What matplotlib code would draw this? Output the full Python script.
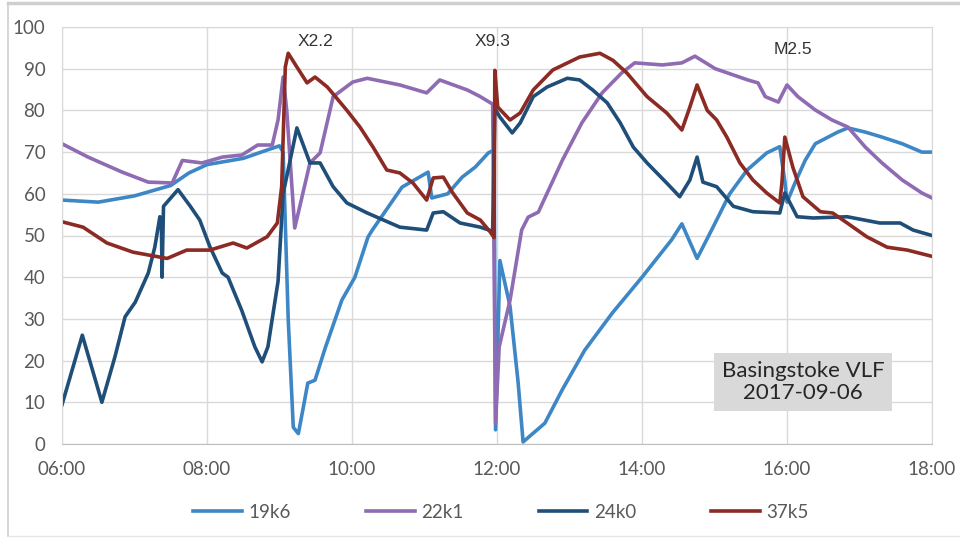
import matplotlib
matplotlib.use("Agg")
import matplotlib.pyplot as plt
from matplotlib.lines import Line2D

plt.rcParams['font.family'] = ['Lato', 'DejaVu Sans']

# Dados (hora decimal, amplitude)
t_19k6 = [6.00, 6.50, 7.00, 7.50, 7.75, 8.00, 8.50, 8.83, 9.00, 9.05, 9.12, 9.19, 9.26, 9.32, 9.39,
          9.49, 9.63, 9.86, 10.04, 10.22, 10.28, 10.69, 11.05, 11.10, 11.32, 11.52, 11.70, 11.88,
          11.96, 11.98, 12.04, 12.18, 12.29, 12.36, 12.66, 12.90, 13.21, 13.59, 14.00, 14.41, 14.55,
          14.76, 14.98, 15.21, 15.45, 15.72, 15.90, 15.97, 16.00, 16.11, 16.25, 16.39, 16.70, 16.84,
          17.08, 17.31, 17.59, 17.86, 18.00]
v_19k6 = [58.5, 58, 59.5, 62, 65, 67, 68.5, 70.5, 71.5, 70, 30, 4, 2.5, 8, 14.6,
          15.3, 23, 34.5, 40, 49.6, 51.3, 61.6, 65.2, 59, 60, 64, 66.4, 69.8,
          70.5, 3.4, 44, 33, 15, 0.5, 5, 13, 22.5, 31.4, 40, 49, 52.8,
          44.5, 52, 60, 65.7, 69.8, 71.3, 63, 58, 62.6, 68, 72, 74.8, 75.8,
          74.8, 73.6, 72, 70, 70]

t_22k1 = [6.00, 6.36, 6.83, 7.19, 7.52, 7.66, 7.93, 8.21, 8.48, 8.70, 8.90, 8.98, 9.05, 9.10, 9.21,
          9.42, 9.56, 9.74, 10.01, 10.21, 10.66, 11.03, 11.21, 11.59, 11.77, 11.94, 11.98, 12.03,
          12.18, 12.34, 12.43, 12.57, 12.90, 13.17, 13.45, 13.72, 13.90, 14.28, 14.55, 14.73, 15.01,
          15.46, 15.60, 15.70, 15.88, 16.00, 16.15, 16.39, 16.62, 16.84, 17.08, 17.31, 17.59, 17.86,
          18.00]
v_22k1 = [72, 68.8, 65.2, 62.8, 62.6, 68, 67.4, 68.8, 69.3, 71.7, 71.7, 77.7, 88, 80, 51.8,
          67.4, 69.8, 83.3, 86.8, 87.7, 86.1, 84.2, 87.3, 84.9, 83.3, 81.5, 5, 23.3,
          34.5, 51.3, 54.4, 55.6, 68, 77, 84.2, 89, 91.4, 90.9, 91.4, 93, 90,
          87.3, 86.6, 83.3, 82, 86.1, 83.3, 80.1, 77.7, 76, 71.2, 67.4, 63.3, 60.2,
          59]

t_24k0 = [6.00, 6.28, 6.55, 6.73, 6.87, 7.01, 7.19, 7.28, 7.35, 7.37, 7.38, 7.40, 7.60, 7.77, 7.90,
          8.04, 8.21, 8.29, 8.48, 8.66, 8.76, 8.84, 8.98, 9.05, 9.24, 9.42, 9.56, 9.74, 9.93,
          10.21, 10.66, 11.03, 11.12, 11.26, 11.49, 11.77, 11.94, 11.97, 12.04, 12.21, 12.32, 12.50,
          12.69, 12.97, 13.14, 13.32, 13.52, 13.70, 13.88, 14.07, 14.34, 14.52, 14.66, 14.76, 14.84,
          15.03, 15.26, 15.53, 15.90, 15.97, 16.14, 16.36, 16.83, 17.28, 17.56, 17.74, 18.00]
v_24k0 = [9.4, 26.1, 10, 20.9, 30.5, 34, 41, 47.2, 54.5, 54, 40, 57, 61, 57, 53.7,
          47.3, 41, 40, 32, 23.3, 19.7, 23.3, 39, 60, 75.8, 67.4, 67.4, 61.7, 57.8,
          55.4, 52, 51.3, 55.4, 55.7, 53, 52, 51, 80.5, 78.4, 74.6, 77, 83.3,
          85.6, 87.7, 87.3, 84.9, 81.8, 77, 71.2, 67.4, 62.6, 59.3, 63.3, 68.8, 62.8,
          61.7, 57, 55.7, 55.4, 60.2, 54.5, 54.2, 54.5, 53, 53, 51.3, 50]

t_37k5 = [6.00, 6.29, 6.62, 6.98, 7.45, 7.72, 8.04, 8.36, 8.55, 8.83, 8.97, 9.03, 9.08, 9.12, 9.24,
          9.38, 9.49, 9.66, 9.93, 10.11, 10.29, 10.48, 10.66, 10.84, 11.03, 11.12, 11.26, 11.39,
          11.59, 11.77, 11.90, 11.96, 11.97, 12.01, 12.18, 12.32, 12.50, 12.77, 13.14, 13.42, 13.60,
          13.79, 14.07, 14.34, 14.55, 14.66, 14.76, 14.90, 15.03, 15.17, 15.35, 15.53, 15.72, 15.90,
          15.93, 15.97, 16.08, 16.22, 16.46, 16.63, 16.83, 17.10, 17.38, 17.66, 18.00]
v_37k5 = [53.3, 52, 48.2, 46, 44.5, 46.5, 46.5, 48.2, 47, 49.7, 53, 61.7, 90.4, 93.7, 90.4,
          86.6, 88, 85.6, 80, 76, 71.2, 65.7, 65, 62.6, 58.5, 63.8, 64, 60.2,
          55.4, 53.7, 51, 49.5, 89.6, 80.8, 77.7, 79.4, 84.9, 89.7, 92.8, 93.7, 92,
          89, 83.3, 79.4, 75.3, 80.8, 86.1, 80, 77.7, 73.6, 67.4, 63.3, 60.2, 57.8,
          62.6, 73.6, 66.4, 59.3, 55.7, 55.4, 53, 49.7, 47.2, 46.5, 45]

series = [("19k6", t_19k6, v_19k6, "#3d87c6"),
          ("22k1", t_22k1, v_22k1, "#8f6bb3"),
          ("24k0", t_24k0, v_24k0, "#1f4e79"),
          ("37k5", t_37k5, v_37k5, "#8c2a24")]

flares = ["X2.2", "X9.3", "M2.5"]
flare_t = [9.49, 11.94, 16.08]
flare_y = [96.5, 96.5, 94.5]

tick_horas = [6, 8, 10, 12, 14, 16, 18]
tick_labels = ["06:00", "08:00", "10:00", "12:00", "14:00", "16:00", "18:00"]

fig = plt.figure(figsize=(9.6, 5.38), dpi=100)
ax = fig.add_axes([62/960, 94/538, 870/960, 417/538])

for nome, t, v, cor in series:
    ax.plot(t, v, color=cor, linewidth=2.6, label=nome, solid_joinstyle='round')

ax.set_xlim(6, 18)
ax.set_ylim(0, 100)
ax.set_xticks(tick_horas)
ax.set_xticklabels(tick_labels)
ax.set_yticks(range(0, 101, 10))
ax.tick_params(length=0, labelsize=13.5, colors='#595959')
ax.tick_params(axis='y', pad=12)
ax.tick_params(axis='x', pad=12)
ax.grid(True, color='#d9d9d9', linewidth=1)
ax.set_axisbelow(True)
for s in ax.spines.values():
    s.set_color('#d9d9d9')
ax.spines['bottom'].set_color('#bfbfbf')

for nome, x, y in zip(flares, flare_t, flare_y):
    ax.text(x, y, nome, ha='center', va='center', fontsize=12.5, color='#333333',
            family=['Liberation Sans', 'DejaVu Sans'])

ax.text(16.22, 14.9, "Basingstoke VLF\n2017-09-06", ha='center', va='center', fontsize=16,
        color='#262626', linespacing=1.15,
        bbox=dict(boxstyle='square,pad=0.35', facecolor='#d9d9d9', edgecolor='none'))

fig.legend(loc='center', bbox_to_anchor=(501/960, 1 - 512/538), ncol=4, frameon=False,
           fontsize=13.5, handlelength=2.6, handletextpad=0.35, columnspacing=4.0,
           labelcolor='#595959')

# moldura externa
fig.add_artist(Line2D([8/960, 8/960], [2/538, 535/538], transform=fig.transFigure,
                      color='#d0d0d0', linewidth=1.2))
fig.add_artist(Line2D([8/960, 1], [535/538, 535/538], transform=fig.transFigure,
                      color='#cfcfcf', linewidth=2.5))
fig.add_artist(Line2D([8/960, 1], [2/538, 2/538], transform=fig.transFigure,
                      color='#e6e6e6', linewidth=1))

fig.savefig("out.png", dpi=100)
